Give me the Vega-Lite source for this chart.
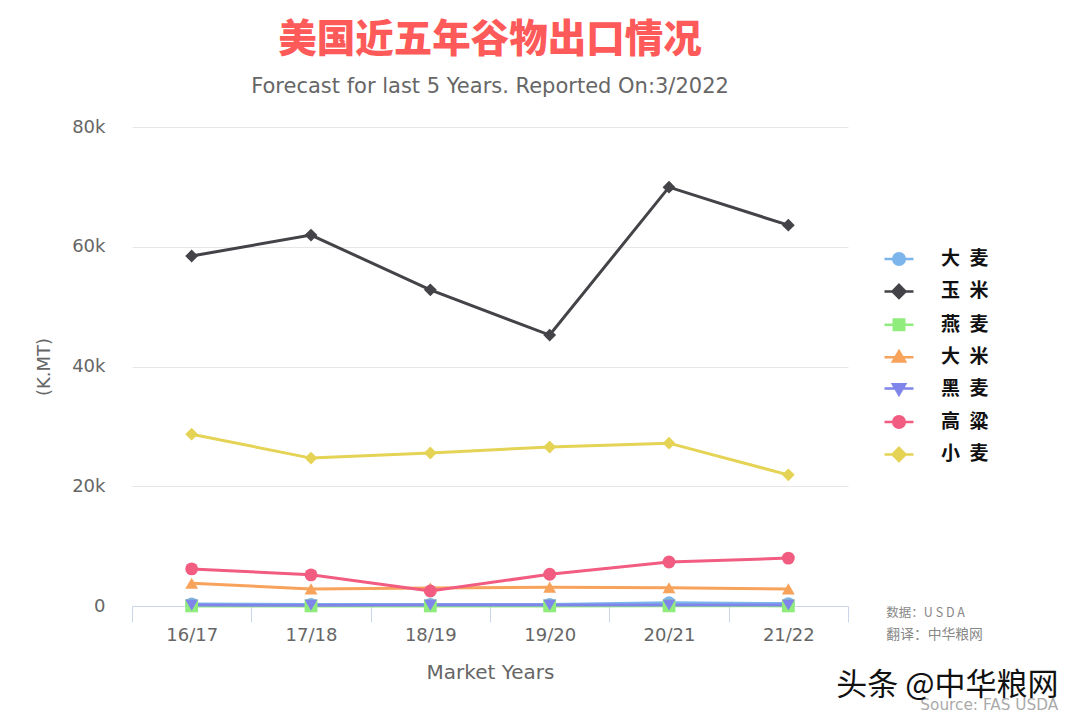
{
  "$schema": "https://vega.github.io/schema/vega-lite/v6.json",
  "width": 716,
  "height": 479,
  "autosize": {"type": "none"},
  "padding": {"left": 132, "top": 127, "right": 232, "bottom": 115},
  "background": "white",
  "config": {"view": {"stroke": null}},
  "title": {
    "text": "美国近五年谷物出口情况",
    "subtitle": "Forecast for last 5 Years. Reported On:3/2022",
    "anchor": "middle",
    "font": "Noto Sans CJK SC",
    "fontSize": 38.5,
    "fontWeight": 900,
    "color": "#ff5a5a",
    "subtitleFont": "DejaVu Sans",
    "subtitleFontSize": 21,
    "subtitleColor": "#666666",
    "subtitlePadding": 16,
    "offset": 20
  },
  "datasets": {
    "main": [
      {"yr": "16/17", "series": "大麦", "v": 350},
      {"yr": "17/18", "series": "大麦", "v": 250},
      {"yr": "18/19", "series": "大麦", "v": 250},
      {"yr": "19/20", "series": "大麦", "v": 250},
      {"yr": "20/21", "series": "大麦", "v": 550},
      {"yr": "21/22", "series": "大麦", "v": 400},
      {"yr": "16/17", "series": "玉米", "v": 58450},
      {"yr": "17/18", "series": "玉米", "v": 61950},
      {"yr": "18/19", "series": "玉米", "v": 52800},
      {"yr": "19/20", "series": "玉米", "v": 45250},
      {"yr": "20/21", "series": "玉米", "v": 69950},
      {"yr": "21/22", "series": "玉米", "v": 63600},
      {"yr": "16/17", "series": "燕麦", "v": 20},
      {"yr": "17/18", "series": "燕麦", "v": 20},
      {"yr": "18/19", "series": "燕麦", "v": 15},
      {"yr": "19/20", "series": "燕麦", "v": 20},
      {"yr": "20/21", "series": "燕麦", "v": 25},
      {"yr": "21/22", "series": "燕麦", "v": 20},
      {"yr": "16/17", "series": "大米", "v": 3800},
      {"yr": "17/18", "series": "大米", "v": 2850},
      {"yr": "18/19", "series": "大米", "v": 3000},
      {"yr": "19/20", "series": "大米", "v": 3150},
      {"yr": "20/21", "series": "大米", "v": 3050},
      {"yr": "21/22", "series": "大米", "v": 2850},
      {"yr": "16/17", "series": "黑麦", "v": 150},
      {"yr": "17/18", "series": "黑麦", "v": 140},
      {"yr": "18/19", "series": "黑麦", "v": 150},
      {"yr": "19/20", "series": "黑麦", "v": 160},
      {"yr": "20/21", "series": "黑麦", "v": 170},
      {"yr": "21/22", "series": "黑麦", "v": 160},
      {"yr": "16/17", "series": "高粱", "v": 6200},
      {"yr": "17/18", "series": "高粱", "v": 5200},
      {"yr": "18/19", "series": "高粱", "v": 2500},
      {"yr": "19/20", "series": "高粱", "v": 5300},
      {"yr": "20/21", "series": "高粱", "v": 7350},
      {"yr": "21/22", "series": "高粱", "v": 8000},
      {"yr": "16/17", "series": "小麦", "v": 28700},
      {"yr": "17/18", "series": "小麦", "v": 24700},
      {"yr": "18/19", "series": "小麦", "v": 25550},
      {"yr": "19/20", "series": "小麦", "v": 26550},
      {"yr": "20/21", "series": "小麦", "v": 27200},
      {"yr": "21/22", "series": "小麦", "v": 21900}
    ],
    "notes": [
      {"yr": "21/22", "v": 0, "t": "数据：U S D A", "k": "a"},
      {"yr": "21/22", "v": 0, "t": "翻译：中华粮网", "k": "b"},
      {"yr": "21/22", "v": 0, "t": "头条 @中华粮网", "k": "c"},
      {"yr": "21/22", "v": 0, "t": "Source: FAS USDA", "k": "d"}
    ]
  },
  "data": {"name": "main"},
  "encoding": {
    "x": {
      "field": "yr",
      "type": "ordinal",
      "sort": ["16/17", "17/18", "18/19", "19/20", "20/21", "21/22"],
      "scale": {"paddingInner": 0, "paddingOuter": 0},
      "axis": {
        "title": "Market Years",
        "labelAngle": 0,
        "labelFont": "DejaVu Sans",
        "labelFontSize": 18,
        "labelColor": "#666666",
        "labelPadding": 4,
        "tickBand": "extent",
        "tickSize": 16,
        "tickColor": "#ccd6eb",
        "domainColor": "#ccd6eb",
        "titleFont": "DejaVu Sans",
        "titleFontSize": 20,
        "titleFontWeight": "normal",
        "titleColor": "#666666",
        "titlePadding": 18
      }
    },
    "y": {
      "field": "v",
      "type": "quantitative",
      "scale": {"domain": [0, 80000]},
      "axis": {
        "title": "(K.MT)",
        "values": [0, 20000, 40000, 60000, 80000],
        "labelExpr": "datum.value === 0 ? '0' : format(datum.value / 1000, 'd') + 'k'",
        "domain": false,
        "ticks": false,
        "gridColor": "#e6e6e6",
        "labelFont": "DejaVu Sans",
        "labelFontSize": 18,
        "labelColor": "#666666",
        "labelPadding": 27,
        "titleFont": "DejaVu Sans",
        "titleFontSize": 18,
        "titleFontWeight": "normal",
        "titleColor": "#666666",
        "titlePadding": 18
      }
    }
  },
  "layer": [
    {
      "mark": {"type": "line", "strokeWidth": 3},
      "encoding": {
        "color": {
          "field": "series",
          "type": "nominal",
          "scale": {
            "domain": ["大麦", "玉米", "燕麦", "大米", "黑麦", "高粱", "小麦"],
            "range": ["#7cb5ec", "#434348", "#90ed7d", "#f7a35c", "#8085e9", "#f15c80", "#e4d354"]
          },
          "legend": {
            "title": null,
            "orient": "none",
            "legendX": 751,
            "legendY": 116,
            "symbolSize": 841,
            "symbolStrokeWidth": 2.5,
            "symbolOpacity": 1,
            "rowPadding": 5.4,
            "labelOffset": 26,
            "labelFont": "Noto Sans CJK SC",
            "labelFontSize": 19,
            "labelFontWeight": "bold",
            "labelColor": "#111111",
            "labelExpr": "substring(datum.label, 0, 1) + '\u2002' + substring(datum.label, 1)",
            "encode": {
              "symbols": {
                "update": {
                  "shape": {"signal": "['M-1,0H1M0.4,0A0.4,0.4,0,1,1,-0.4,0A0.4,0.4,0,1,1,0.4,0Z','M-1,0H1M0,-0.45L0.45,0L0,0.45L-0.45,0Z','M-1,0H1M-0.36,-0.36H0.36V0.36H-0.36Z','M-1,0H1M0,-0.42L0.42,0.3H-0.42Z','M-1,0H1M0,0.42L0.42,-0.3H-0.42Z','M-1,0H1M0.4,0A0.4,0.4,0,1,1,-0.4,0A0.4,0.4,0,1,1,0.4,0Z','M-1,0H1M0,-0.45L0.45,0L0,0.45L-0.45,0Z'][indexof(['大麦','玉米','燕麦','大米','黑麦','高粱','小麦'], datum.value)]"},
                  "fill": {"scale": "color", "field": "value"},
                  "stroke": {"scale": "color", "field": "value"},
                  "strokeWidth": {"value": 2.5},
                  "opacity": {"value": 1}
                }
              }
            }
          }
        }
      }
    },
    {
      "mark": {
        "type": "point",
        "filled": true,
        "size": 165,
        "opacity": 1,
        "shape": {"expr": "['circle','diamond','square','triangle-up','triangle-down','circle','diamond'][indexof(['大麦','玉米','燕麦','大米','黑麦','高粱','小麦'], datum.series)]"}
      },
      "encoding": {
        "color": {"field": "series", "type": "nominal", "legend": null}
      }
    },
    {
      "data": {"name": "notes"},
      "transform": [{"filter": "datum.k === 'a'"}],
      "mark": {"type": "text", "align": "left", "baseline": "middle", "dx": 98, "dy": 7, "font": "Noto Sans CJK SC", "fontSize": 12.5, "color": "#888888"},
      "encoding": {"text": {"field": "t"}}
    },
    {
      "data": {"name": "notes"},
      "transform": [{"filter": "datum.k === 'b'"}],
      "mark": {"type": "text", "align": "left", "baseline": "middle", "dx": 98, "dy": 29, "font": "Noto Sans CJK SC", "fontSize": 13.8, "color": "#888888"},
      "encoding": {"text": {"field": "t"}}
    },
    {
      "data": {"name": "notes"},
      "transform": [{"filter": "datum.k === 'd'"}],
      "mark": {"type": "text", "align": "left", "baseline": "middle", "dx": 132, "dy": 99, "font": "DejaVu Sans", "fontSize": 15.3, "color": "#aaaaaa"},
      "encoding": {"text": {"field": "t"}}
    },
    {
      "data": {"name": "notes"},
      "transform": [{"filter": "datum.k === 'c'"}],
      "mark": {"type": "text", "align": "left", "baseline": "middle", "dx": 48, "dy": 80, "font": "Noto Sans CJK SC", "fontSize": 31, "color": "#111111"},
      "encoding": {"text": {"field": "t"}}
    }
  ]
}
